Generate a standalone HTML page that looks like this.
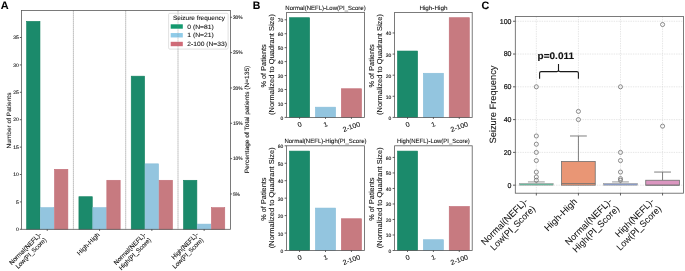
<!DOCTYPE html>
<html><head><meta charset="utf-8"><style>
html,body{margin:0;padding:0;background:#fff;width:685px;height:271px;overflow:hidden}
svg{display:block;will-change:transform;filter:blur(0.3px)}
text{font-family:"Liberation Sans", sans-serif;text-rendering:geometricPrecision;stroke:#111;stroke-width:0.09px} text.sm{stroke-width:0.1px}
</style></head><body>
<svg width="685" height="271" viewBox="0 0 685 271">
<rect width="685" height="271" fill="#fff"/>
<line x1="73.40" y1="10.50" x2="73.40" y2="229.30" stroke="#7a7a7a" stroke-width="0.7" stroke-dasharray="1.2,0.8"/>
<line x1="125.70" y1="10.50" x2="125.70" y2="229.30" stroke="#7a7a7a" stroke-width="0.7" stroke-dasharray="1.2,0.8"/>
<line x1="178.00" y1="10.50" x2="178.00" y2="229.30" stroke="#7a7a7a" stroke-width="0.7" stroke-dasharray="1.2,0.8"/>
<rect x="26.62" y="21.38" width="13.35" height="207.92" fill="#1b8a6b" stroke="#11805f" stroke-width="0.6"/>
<rect x="40.57" y="207.68" width="13.35" height="21.62" fill="#93c5df" stroke="#86bdd9" stroke-width="0.6"/>
<rect x="54.52" y="169.32" width="13.35" height="59.98" fill="#c77a80" stroke="#c26c75" stroke-width="0.6"/>
<rect x="78.92" y="196.72" width="13.35" height="32.58" fill="#1b8a6b" stroke="#11805f" stroke-width="0.6"/>
<rect x="92.88" y="207.68" width="13.35" height="21.62" fill="#93c5df" stroke="#86bdd9" stroke-width="0.6"/>
<rect x="106.83" y="180.28" width="13.35" height="49.02" fill="#c77a80" stroke="#c26c75" stroke-width="0.6"/>
<rect x="131.23" y="76.17" width="13.35" height="153.13" fill="#1b8a6b" stroke="#11805f" stroke-width="0.6"/>
<rect x="145.18" y="163.84" width="13.35" height="65.46" fill="#93c5df" stroke="#86bdd9" stroke-width="0.6"/>
<rect x="159.12" y="180.28" width="13.35" height="49.02" fill="#c77a80" stroke="#c26c75" stroke-width="0.6"/>
<rect x="183.53" y="180.28" width="13.35" height="49.02" fill="#1b8a6b" stroke="#11805f" stroke-width="0.6"/>
<rect x="197.47" y="224.12" width="13.35" height="5.18" fill="#93c5df" stroke="#86bdd9" stroke-width="0.6"/>
<rect x="211.42" y="207.68" width="13.35" height="21.62" fill="#c77a80" stroke="#c26c75" stroke-width="0.6"/>
<rect x="21.45" y="10.5" width="209.05" height="218.80" fill="none" stroke="#5a5a5a" stroke-width="0.8"/>
<line x1="19.85" y1="229.30" x2="21.45" y2="229.30" stroke="#3a3a3a" stroke-width="0.8" />
<text id="t1" class="m sm" transform="translate(18.85,231.00)" y="0.00" font-size="5.08" text-anchor="end" fill="#111" >0</text>
<line x1="19.85" y1="201.90" x2="21.45" y2="201.90" stroke="#3a3a3a" stroke-width="0.8" />
<text id="t2" class="m sm" transform="translate(18.85,203.60)" y="0.00" font-size="5.08" text-anchor="end" fill="#111" >5</text>
<line x1="19.85" y1="174.50" x2="21.45" y2="174.50" stroke="#3a3a3a" stroke-width="0.8" />
<text id="t3" class="m sm" transform="translate(18.85,176.20)" y="0.00" font-size="5.08" text-anchor="end" fill="#111" >10</text>
<line x1="19.85" y1="147.11" x2="21.45" y2="147.11" stroke="#3a3a3a" stroke-width="0.8" />
<text id="t4" class="m sm" transform="translate(18.85,148.81)" y="0.00" font-size="5.08" text-anchor="end" fill="#111" >15</text>
<line x1="19.85" y1="119.71" x2="21.45" y2="119.71" stroke="#3a3a3a" stroke-width="0.8" />
<text id="t5" class="m sm" transform="translate(18.85,121.41)" y="0.00" font-size="5.08" text-anchor="end" fill="#111" >20</text>
<line x1="19.85" y1="92.31" x2="21.45" y2="92.31" stroke="#3a3a3a" stroke-width="0.8" />
<text id="t6" class="m sm" transform="translate(18.85,94.01)" y="0.00" font-size="5.08" text-anchor="end" fill="#111" >25</text>
<line x1="19.85" y1="64.91" x2="21.45" y2="64.91" stroke="#3a3a3a" stroke-width="0.8" />
<text id="t7" class="m sm" transform="translate(18.85,66.61)" y="0.00" font-size="5.08" text-anchor="end" fill="#111" >30</text>
<line x1="19.85" y1="37.51" x2="21.45" y2="37.51" stroke="#3a3a3a" stroke-width="0.8" />
<text id="t8" class="m sm" transform="translate(18.85,39.21)" y="0.00" font-size="5.08" text-anchor="end" fill="#111" >35</text>
<line x1="230.50" y1="193.96" x2="232.10" y2="193.96" stroke="#3a3a3a" stroke-width="0.8" />
<text id="t9" class="m sm" transform="translate(232.90,195.66)" y="0.00" font-size="4.86" text-anchor="start" fill="#111" >5%</text>
<line x1="230.50" y1="158.63" x2="232.10" y2="158.63" stroke="#3a3a3a" stroke-width="0.8" />
<text id="t10" class="m sm" transform="translate(232.90,160.33)" y="0.00" font-size="4.86" text-anchor="start" fill="#111" >10%</text>
<line x1="230.50" y1="123.29" x2="232.10" y2="123.29" stroke="#3a3a3a" stroke-width="0.8" />
<text id="t11" class="m sm" transform="translate(232.90,124.99)" y="0.00" font-size="4.86" text-anchor="start" fill="#111" >15%</text>
<line x1="230.50" y1="87.96" x2="232.10" y2="87.96" stroke="#3a3a3a" stroke-width="0.8" />
<text id="t12" class="m sm" transform="translate(232.90,89.66)" y="0.00" font-size="4.86" text-anchor="start" fill="#111" >20%</text>
<line x1="230.50" y1="52.62" x2="232.10" y2="52.62" stroke="#3a3a3a" stroke-width="0.8" />
<text id="t13" class="m sm" transform="translate(232.90,54.32)" y="0.00" font-size="4.86" text-anchor="start" fill="#111" >25%</text>
<line x1="230.50" y1="17.28" x2="232.10" y2="17.28" stroke="#3a3a3a" stroke-width="0.8" />
<text id="t14" class="m sm" transform="translate(232.90,18.98)" y="0.00" font-size="4.86" text-anchor="start" fill="#111" >30%</text>
<line x1="47.25" y1="229.30" x2="47.25" y2="230.90" stroke="#3a3a3a" stroke-width="0.8" />
<line x1="99.55" y1="229.30" x2="99.55" y2="230.90" stroke="#3a3a3a" stroke-width="0.8" />
<line x1="151.85" y1="229.30" x2="151.85" y2="230.90" stroke="#3a3a3a" stroke-width="0.8" />
<line x1="204.15" y1="229.30" x2="204.15" y2="230.90" stroke="#3a3a3a" stroke-width="0.8" />
<g id="g1" class="m" transform="translate(41.75,235.15) rotate(-45)">
<text x="0" y="0.00" font-size="6.32" text-anchor="end" fill="#111" textLength="42.54" lengthAdjust="spacingAndGlyphs">Normal(NEFL)-</text>
<text x="0" y="7.30" font-size="6.32" text-anchor="end" fill="#111" textLength="40.65" lengthAdjust="spacingAndGlyphs">Low(PI_Score)</text>
</g>
<g id="g2" class="m" transform="translate(100.05,235.15) rotate(-45)">
<text x="0" y="0.00" font-size="6.32" text-anchor="end" fill="#111" textLength="29.00" lengthAdjust="spacingAndGlyphs">High-High</text>
</g>
<g id="g3" class="m" transform="translate(146.35,235.15) rotate(-45)">
<text x="0" y="0.00" font-size="6.32" text-anchor="end" fill="#111" textLength="42.54" lengthAdjust="spacingAndGlyphs">Normal(NEFL)-</text>
<text x="0" y="7.30" font-size="6.32" text-anchor="end" fill="#111" textLength="42.57" lengthAdjust="spacingAndGlyphs">High(PI_Score)</text>
</g>
<g id="g4" class="m" transform="translate(198.65,235.15) rotate(-45)">
<text x="0" y="0.00" font-size="6.32" text-anchor="end" fill="#111" textLength="34.82" lengthAdjust="spacingAndGlyphs">High(NEFL)-</text>
<text x="0" y="7.30" font-size="6.32" text-anchor="end" fill="#111" textLength="40.65" lengthAdjust="spacingAndGlyphs">Low(PI_Score)</text>
</g>
<text id="t15" class="m" transform="translate(10.60,120.50) rotate(-90)" y="0.00" font-size="6.20" text-anchor="middle" fill="#111"  textLength="55.82" lengthAdjust="spacingAndGlyphs">Number of Patients</text>
<text id="t16" class="m" transform="translate(248.70,119.50) rotate(-90)" y="0.00" font-size="6.26" text-anchor="middle" fill="#111"  textLength="107.60" lengthAdjust="spacingAndGlyphs">Percentage of Total patients (N=135)</text>
<rect x="168.6" y="13.3" width="59.5" height="35.8" rx="1.2" fill="#fff" fill-opacity="0.8" stroke="#ccc" stroke-width="0.6"/>
<text id="t17" class="m" transform="translate(199.00,20.10)" y="0.00" font-size="6.22" text-anchor="middle" fill="#111"  textLength="51.98" lengthAdjust="spacingAndGlyphs">Seizure frequency</text>
<rect x="170.70" y="24.30" width="12.10" height="4.40" fill="#139a6f" />
<text id="t18" class="m" transform="translate(187.30,28.70)" y="0.00" font-size="6.24" text-anchor="start" fill="#111"  textLength="26.55" lengthAdjust="spacingAndGlyphs">0 (N=81)</text>
<rect x="170.70" y="33.05" width="12.10" height="4.40" fill="#8fcbe8" />
<text id="t19" class="m" transform="translate(187.30,37.45)" y="0.00" font-size="6.24" text-anchor="start" fill="#111"  textLength="26.55" lengthAdjust="spacingAndGlyphs">1 (N=21)</text>
<rect x="170.70" y="41.80" width="12.10" height="4.40" fill="#d06b78" />
<text id="t20" class="m" transform="translate(187.30,46.20)" y="0.00" font-size="6.24" text-anchor="start" fill="#111"  textLength="39.66" lengthAdjust="spacingAndGlyphs">2-100 (N=33)</text>
<line x1="178.00" y1="13.60" x2="178.00" y2="48.80" stroke="#888" stroke-width="0.6" stroke-dasharray="1.2,0.8" opacity="0.6"/>
<text id="t21" class="m" transform="translate(0.75,8.75)" y="0.00" font-size="10.80" text-anchor="start" fill="#000" font-weight="bold"  textLength="7.90" lengthAdjust="spacingAndGlyphs">A</text>
<rect x="289.49" y="17.70" width="20.15" height="99.70" fill="#1b8a6b" stroke="#11805f" stroke-width="0.6"/>
<rect x="315.43" y="107.17" width="20.15" height="10.23" fill="#93c5df" stroke="#86bdd9" stroke-width="0.6"/>
<rect x="341.36" y="88.75" width="20.15" height="28.65" fill="#c77a80" stroke="#c26c75" stroke-width="0.6"/>
<rect x="286.6" y="12.4" width="77.80" height="105.00" fill="none" stroke="#5a5a5a" stroke-width="0.8"/>
<line x1="284.60" y1="117.40" x2="286.60" y2="117.40" stroke="#3a3a3a" stroke-width="0.8" />
<text id="t22" class="m sm" transform="translate(283.30,119.90)" y="0.00" font-size="4.97" text-anchor="end" fill="#111" >0</text>
<line x1="284.60" y1="103.45" x2="286.60" y2="103.45" stroke="#3a3a3a" stroke-width="0.8" />
<text id="t23" class="m sm" transform="translate(283.30,105.95)" y="0.00" font-size="4.97" text-anchor="end" fill="#111" >10</text>
<line x1="284.60" y1="89.51" x2="286.60" y2="89.51" stroke="#3a3a3a" stroke-width="0.8" />
<text id="t24" class="m sm" transform="translate(283.30,92.01)" y="0.00" font-size="4.97" text-anchor="end" fill="#111" >20</text>
<line x1="284.60" y1="75.56" x2="286.60" y2="75.56" stroke="#3a3a3a" stroke-width="0.8" />
<text id="t25" class="m sm" transform="translate(283.30,78.06)" y="0.00" font-size="4.97" text-anchor="end" fill="#111" >30</text>
<line x1="284.60" y1="61.61" x2="286.60" y2="61.61" stroke="#3a3a3a" stroke-width="0.8" />
<text id="t26" class="m sm" transform="translate(283.30,64.11)" y="0.00" font-size="4.97" text-anchor="end" fill="#111" >40</text>
<line x1="284.60" y1="47.66" x2="286.60" y2="47.66" stroke="#3a3a3a" stroke-width="0.8" />
<text id="t27" class="m sm" transform="translate(283.30,50.16)" y="0.00" font-size="4.97" text-anchor="end" fill="#111" >50</text>
<line x1="284.60" y1="33.72" x2="286.60" y2="33.72" stroke="#3a3a3a" stroke-width="0.8" />
<text id="t28" class="m sm" transform="translate(283.30,36.22)" y="0.00" font-size="4.97" text-anchor="end" fill="#111" >60</text>
<line x1="284.60" y1="19.77" x2="286.60" y2="19.77" stroke="#3a3a3a" stroke-width="0.8" />
<text id="t29" class="m sm" transform="translate(283.30,22.27)" y="0.00" font-size="4.97" text-anchor="end" fill="#111" >70</text>
<line x1="299.57" y1="117.40" x2="299.57" y2="118.90" stroke="#3a3a3a" stroke-width="0.8" />
<text id="t30" class="m" transform="translate(299.57,124.36) rotate(-20)" y="2.25" font-size="6.75" text-anchor="middle" fill="#111"  textLength="3.98" lengthAdjust="spacingAndGlyphs">0</text>
<line x1="325.50" y1="117.40" x2="325.50" y2="118.90" stroke="#3a3a3a" stroke-width="0.8" />
<text id="t31" class="m" transform="translate(325.50,124.36) rotate(-20)" y="2.25" font-size="6.75" text-anchor="middle" fill="#111"  textLength="3.98" lengthAdjust="spacingAndGlyphs">1</text>
<line x1="351.43" y1="117.40" x2="351.43" y2="118.90" stroke="#3a3a3a" stroke-width="0.8" />
<text id="t32" class="m" transform="translate(351.43,126.78) rotate(-20)" y="2.25" font-size="6.75" text-anchor="middle" fill="#111"  textLength="18.16" lengthAdjust="spacingAndGlyphs">2-100</text>
<text id="t33" class="m" transform="translate(325.50,9.80)" y="0.00" font-size="6.10" text-anchor="middle" fill="#111"  textLength="80.34" lengthAdjust="spacingAndGlyphs">Normal(NEFL)-Low(PI_Score)</text>
<text id="t34" class="m" transform="translate(265.80,65.90) rotate(-90)" y="0.00" font-size="7.13" text-anchor="middle" fill="#111"  textLength="43.25" lengthAdjust="spacingAndGlyphs">% of Patients</text>
<text id="t35" class="m" transform="translate(274.30,64.50) rotate(-90)" y="0.00" font-size="7.13" text-anchor="middle" fill="#111"  textLength="100.99" lengthAdjust="spacingAndGlyphs">(Normalized to Quadrant Size)</text>
<rect x="397.49" y="51.03" width="20.09" height="66.37" fill="#1b8a6b" stroke="#11805f" stroke-width="0.6"/>
<rect x="423.35" y="73.26" width="20.09" height="44.14" fill="#93c5df" stroke="#86bdd9" stroke-width="0.6"/>
<rect x="449.22" y="17.70" width="20.09" height="99.70" fill="#c77a80" stroke="#c26c75" stroke-width="0.6"/>
<rect x="394.6" y="12.4" width="77.60" height="105.00" fill="none" stroke="#5a5a5a" stroke-width="0.8"/>
<line x1="392.60" y1="117.40" x2="394.60" y2="117.40" stroke="#3a3a3a" stroke-width="0.8" />
<text id="t36" class="m sm" transform="translate(391.30,119.90)" y="0.00" font-size="4.97" text-anchor="end" fill="#111" >0</text>
<line x1="392.60" y1="96.29" x2="394.60" y2="96.29" stroke="#3a3a3a" stroke-width="0.8" />
<text id="t37" class="m sm" transform="translate(391.30,98.79)" y="0.00" font-size="4.97" text-anchor="end" fill="#111" >10</text>
<line x1="392.60" y1="75.18" x2="394.60" y2="75.18" stroke="#3a3a3a" stroke-width="0.8" />
<text id="t38" class="m sm" transform="translate(391.30,77.68)" y="0.00" font-size="4.97" text-anchor="end" fill="#111" >20</text>
<line x1="392.60" y1="54.07" x2="394.60" y2="54.07" stroke="#3a3a3a" stroke-width="0.8" />
<text id="t39" class="m sm" transform="translate(391.30,56.57)" y="0.00" font-size="4.97" text-anchor="end" fill="#111" >30</text>
<line x1="392.60" y1="32.96" x2="394.60" y2="32.96" stroke="#3a3a3a" stroke-width="0.8" />
<text id="t40" class="m sm" transform="translate(391.30,35.46)" y="0.00" font-size="4.97" text-anchor="end" fill="#111" >40</text>
<line x1="407.53" y1="117.40" x2="407.53" y2="118.90" stroke="#3a3a3a" stroke-width="0.8" />
<text id="t41" class="m" transform="translate(407.53,124.36) rotate(-20)" y="2.25" font-size="6.75" text-anchor="middle" fill="#111"  textLength="3.98" lengthAdjust="spacingAndGlyphs">0</text>
<line x1="433.40" y1="117.40" x2="433.40" y2="118.90" stroke="#3a3a3a" stroke-width="0.8" />
<text id="t42" class="m" transform="translate(433.40,124.36) rotate(-20)" y="2.25" font-size="6.75" text-anchor="middle" fill="#111"  textLength="3.98" lengthAdjust="spacingAndGlyphs">1</text>
<line x1="459.27" y1="117.40" x2="459.27" y2="118.90" stroke="#3a3a3a" stroke-width="0.8" />
<text id="t43" class="m" transform="translate(459.27,126.78) rotate(-20)" y="2.25" font-size="6.75" text-anchor="middle" fill="#111"  textLength="18.16" lengthAdjust="spacingAndGlyphs">2-100</text>
<text id="t44" class="m" transform="translate(433.40,9.80)" y="0.00" font-size="6.10" text-anchor="middle" fill="#111"  textLength="28.01" lengthAdjust="spacingAndGlyphs">High-High</text>
<text id="t45" class="m" transform="translate(373.80,65.90) rotate(-90)" y="0.00" font-size="7.13" text-anchor="middle" fill="#111"  textLength="43.25" lengthAdjust="spacingAndGlyphs">% of Patients</text>
<text id="t46" class="m" transform="translate(382.30,64.50) rotate(-90)" y="0.00" font-size="7.13" text-anchor="middle" fill="#111"  textLength="100.99" lengthAdjust="spacingAndGlyphs">(Normalized to Quadrant Size)</text>
<rect x="289.49" y="151.09" width="20.15" height="99.41" fill="#1b8a6b" stroke="#11805f" stroke-width="0.6"/>
<rect x="315.43" y="208.07" width="20.15" height="42.43" fill="#93c5df" stroke="#86bdd9" stroke-width="0.6"/>
<rect x="341.36" y="218.75" width="20.15" height="31.75" fill="#c77a80" stroke="#c26c75" stroke-width="0.6"/>
<rect x="286.6" y="145.8" width="77.80" height="104.70" fill="none" stroke="#5a5a5a" stroke-width="0.8"/>
<line x1="284.60" y1="250.50" x2="286.60" y2="250.50" stroke="#3a3a3a" stroke-width="0.8" />
<text id="t47" class="m sm" transform="translate(283.30,253.00)" y="0.00" font-size="4.97" text-anchor="end" fill="#111" >0</text>
<line x1="284.60" y1="233.05" x2="286.60" y2="233.05" stroke="#3a3a3a" stroke-width="0.8" />
<text id="t48" class="m sm" transform="translate(283.30,235.55)" y="0.00" font-size="4.97" text-anchor="end" fill="#111" >10</text>
<line x1="284.60" y1="215.60" x2="286.60" y2="215.60" stroke="#3a3a3a" stroke-width="0.8" />
<text id="t49" class="m sm" transform="translate(283.30,218.10)" y="0.00" font-size="4.97" text-anchor="end" fill="#111" >20</text>
<line x1="284.60" y1="198.15" x2="286.60" y2="198.15" stroke="#3a3a3a" stroke-width="0.8" />
<text id="t50" class="m sm" transform="translate(283.30,200.65)" y="0.00" font-size="4.97" text-anchor="end" fill="#111" >30</text>
<line x1="284.60" y1="180.70" x2="286.60" y2="180.70" stroke="#3a3a3a" stroke-width="0.8" />
<text id="t51" class="m sm" transform="translate(283.30,183.20)" y="0.00" font-size="4.97" text-anchor="end" fill="#111" >40</text>
<line x1="284.60" y1="163.25" x2="286.60" y2="163.25" stroke="#3a3a3a" stroke-width="0.8" />
<text id="t52" class="m sm" transform="translate(283.30,165.75)" y="0.00" font-size="4.97" text-anchor="end" fill="#111" >50</text>
<line x1="284.60" y1="145.80" x2="286.60" y2="145.80" stroke="#3a3a3a" stroke-width="0.8" />
<text id="t53" class="m sm" transform="translate(283.30,148.30)" y="0.00" font-size="4.97" text-anchor="end" fill="#111" >60</text>
<line x1="299.57" y1="250.50" x2="299.57" y2="252.00" stroke="#3a3a3a" stroke-width="0.8" />
<text id="t54" class="m" transform="translate(299.57,257.46) rotate(-20)" y="2.25" font-size="6.75" text-anchor="middle" fill="#111"  textLength="3.98" lengthAdjust="spacingAndGlyphs">0</text>
<line x1="325.50" y1="250.50" x2="325.50" y2="252.00" stroke="#3a3a3a" stroke-width="0.8" />
<text id="t55" class="m" transform="translate(325.50,257.46) rotate(-20)" y="2.25" font-size="6.75" text-anchor="middle" fill="#111"  textLength="3.98" lengthAdjust="spacingAndGlyphs">1</text>
<line x1="351.43" y1="250.50" x2="351.43" y2="252.00" stroke="#3a3a3a" stroke-width="0.8" />
<text id="t56" class="m" transform="translate(351.43,259.88) rotate(-20)" y="2.25" font-size="6.75" text-anchor="middle" fill="#111"  textLength="18.16" lengthAdjust="spacingAndGlyphs">2-100</text>
<text id="t57" class="m" transform="translate(325.50,143.20)" y="0.00" font-size="6.10" text-anchor="middle" fill="#111"  textLength="82.20" lengthAdjust="spacingAndGlyphs">Normal(NEFL)-High(PI_Score)</text>
<text id="t58" class="m" transform="translate(265.80,199.15) rotate(-90)" y="0.00" font-size="7.13" text-anchor="middle" fill="#111"  textLength="43.25" lengthAdjust="spacingAndGlyphs">% of Patients</text>
<text id="t59" class="m" transform="translate(274.30,197.75) rotate(-90)" y="0.00" font-size="7.13" text-anchor="middle" fill="#111"  textLength="100.99" lengthAdjust="spacingAndGlyphs">(Normalized to Quadrant Size)</text>
<rect x="397.49" y="151.09" width="20.09" height="99.41" fill="#1b8a6b" stroke="#11805f" stroke-width="0.6"/>
<rect x="423.35" y="239.72" width="20.09" height="10.78" fill="#93c5df" stroke="#86bdd9" stroke-width="0.6"/>
<rect x="449.22" y="206.48" width="20.09" height="44.02" fill="#c77a80" stroke="#c26c75" stroke-width="0.6"/>
<rect x="394.6" y="145.8" width="77.60" height="104.70" fill="none" stroke="#5a5a5a" stroke-width="0.8"/>
<line x1="392.60" y1="250.50" x2="394.60" y2="250.50" stroke="#3a3a3a" stroke-width="0.8" />
<text id="t60" class="m sm" transform="translate(391.30,253.00)" y="0.00" font-size="4.97" text-anchor="end" fill="#111" >0</text>
<line x1="392.60" y1="234.99" x2="394.60" y2="234.99" stroke="#3a3a3a" stroke-width="0.8" />
<text id="t61" class="m sm" transform="translate(391.30,237.49)" y="0.00" font-size="4.97" text-anchor="end" fill="#111" >10</text>
<line x1="392.60" y1="219.48" x2="394.60" y2="219.48" stroke="#3a3a3a" stroke-width="0.8" />
<text id="t62" class="m sm" transform="translate(391.30,221.98)" y="0.00" font-size="4.97" text-anchor="end" fill="#111" >20</text>
<line x1="392.60" y1="203.97" x2="394.60" y2="203.97" stroke="#3a3a3a" stroke-width="0.8" />
<text id="t63" class="m sm" transform="translate(391.30,206.47)" y="0.00" font-size="4.97" text-anchor="end" fill="#111" >30</text>
<line x1="392.60" y1="188.46" x2="394.60" y2="188.46" stroke="#3a3a3a" stroke-width="0.8" />
<text id="t64" class="m sm" transform="translate(391.30,190.96)" y="0.00" font-size="4.97" text-anchor="end" fill="#111" >40</text>
<line x1="392.60" y1="172.94" x2="394.60" y2="172.94" stroke="#3a3a3a" stroke-width="0.8" />
<text id="t65" class="m sm" transform="translate(391.30,175.44)" y="0.00" font-size="4.97" text-anchor="end" fill="#111" >50</text>
<line x1="392.60" y1="157.43" x2="394.60" y2="157.43" stroke="#3a3a3a" stroke-width="0.8" />
<text id="t66" class="m sm" transform="translate(391.30,159.93)" y="0.00" font-size="4.97" text-anchor="end" fill="#111" >60</text>
<line x1="407.53" y1="250.50" x2="407.53" y2="252.00" stroke="#3a3a3a" stroke-width="0.8" />
<text id="t67" class="m" transform="translate(407.53,257.46) rotate(-20)" y="2.25" font-size="6.75" text-anchor="middle" fill="#111"  textLength="3.98" lengthAdjust="spacingAndGlyphs">0</text>
<line x1="433.40" y1="250.50" x2="433.40" y2="252.00" stroke="#3a3a3a" stroke-width="0.8" />
<text id="t68" class="m" transform="translate(433.40,257.46) rotate(-20)" y="2.25" font-size="6.75" text-anchor="middle" fill="#111"  textLength="3.98" lengthAdjust="spacingAndGlyphs">1</text>
<line x1="459.27" y1="250.50" x2="459.27" y2="252.00" stroke="#3a3a3a" stroke-width="0.8" />
<text id="t69" class="m" transform="translate(459.27,259.88) rotate(-20)" y="2.25" font-size="6.75" text-anchor="middle" fill="#111"  textLength="18.16" lengthAdjust="spacingAndGlyphs">2-100</text>
<text id="t70" class="m" transform="translate(433.40,143.20)" y="0.00" font-size="6.10" text-anchor="middle" fill="#111"  textLength="72.88" lengthAdjust="spacingAndGlyphs">High(NEFL)-Low(PI_Score)</text>
<text id="t71" class="m" transform="translate(373.80,199.15) rotate(-90)" y="0.00" font-size="7.13" text-anchor="middle" fill="#111"  textLength="43.25" lengthAdjust="spacingAndGlyphs">% of Patients</text>
<text id="t72" class="m" transform="translate(382.30,197.75) rotate(-90)" y="0.00" font-size="7.13" text-anchor="middle" fill="#111"  textLength="100.99" lengthAdjust="spacingAndGlyphs">(Normalized to Quadrant Size)</text>
<text id="t73" class="m" transform="translate(252.70,8.90)" y="0.00" font-size="10.80" text-anchor="start" fill="#000" font-weight="bold"  textLength="7.60" lengthAdjust="spacingAndGlyphs">B</text>
<line x1="515.30" y1="185.17" x2="683.60" y2="185.17" stroke="#ccc" stroke-width="0.5" stroke-dasharray="1.4,1"/>
<line x1="515.30" y1="152.39" x2="683.60" y2="152.39" stroke="#ccc" stroke-width="0.5" stroke-dasharray="1.4,1"/>
<line x1="515.30" y1="119.60" x2="683.60" y2="119.60" stroke="#ccc" stroke-width="0.5" stroke-dasharray="1.4,1"/>
<line x1="515.30" y1="86.82" x2="683.60" y2="86.82" stroke="#ccc" stroke-width="0.5" stroke-dasharray="1.4,1"/>
<line x1="515.30" y1="54.04" x2="683.60" y2="54.04" stroke="#ccc" stroke-width="0.5" stroke-dasharray="1.4,1"/>
<line x1="515.30" y1="21.25" x2="683.60" y2="21.25" stroke="#ccc" stroke-width="0.5" stroke-dasharray="1.4,1"/>
<line x1="536.34" y1="16.50" x2="536.34" y2="193.20" stroke="#ccc" stroke-width="0.5" stroke-dasharray="1.4,1"/>
<line x1="578.41" y1="16.50" x2="578.41" y2="193.20" stroke="#ccc" stroke-width="0.5" stroke-dasharray="1.4,1"/>
<line x1="620.49" y1="16.50" x2="620.49" y2="193.20" stroke="#ccc" stroke-width="0.5" stroke-dasharray="1.4,1"/>
<line x1="662.56" y1="16.50" x2="662.56" y2="193.20" stroke="#ccc" stroke-width="0.5" stroke-dasharray="1.4,1"/>
<line x1="536.34" y1="183.53" x2="536.34" y2="181.89" stroke="#b0b0b0" stroke-width="0.9" />
<line x1="527.92" y1="181.89" x2="544.75" y2="181.89" stroke="#b0b0b0" stroke-width="1.3" />
<rect x="519.51" y="183.53" width="33.66" height="1.64" fill="#66bb9e" stroke="#9a9a9a" stroke-width="0.6"/>
<circle cx="536.34" cy="180.25" r="2.05" fill="none" stroke="#707070" stroke-width="0.8"/>
<circle cx="536.34" cy="176.97" r="2.05" fill="none" stroke="#707070" stroke-width="0.8"/>
<circle cx="536.34" cy="172.06" r="2.05" fill="none" stroke="#707070" stroke-width="0.8"/>
<circle cx="536.34" cy="160.58" r="2.05" fill="none" stroke="#707070" stroke-width="0.8"/>
<circle cx="536.34" cy="152.39" r="2.05" fill="none" stroke="#707070" stroke-width="0.8"/>
<circle cx="536.34" cy="144.19" r="2.05" fill="none" stroke="#707070" stroke-width="0.8"/>
<circle cx="536.34" cy="135.99" r="2.05" fill="none" stroke="#707070" stroke-width="0.8"/>
<circle cx="536.34" cy="86.82" r="2.05" fill="none" stroke="#707070" stroke-width="0.8"/>
<line x1="578.41" y1="161.40" x2="578.41" y2="135.99" stroke="#707070" stroke-width="0.9" />
<line x1="570.00" y1="135.99" x2="586.83" y2="135.99" stroke="#707070" stroke-width="0.9" />
<rect x="561.58" y="161.40" width="33.66" height="23.77" fill="#e99675" stroke="#707070" stroke-width="0.8"/>
<line x1="561.58" y1="183.53" x2="595.24" y2="183.53" stroke="#707070" stroke-width="0.8" />
<circle cx="578.41" cy="119.60" r="2.05" fill="none" stroke="#707070" stroke-width="0.8"/>
<circle cx="578.41" cy="111.41" r="2.05" fill="none" stroke="#707070" stroke-width="0.8"/>
<line x1="620.49" y1="183.53" x2="620.49" y2="181.89" stroke="#b0b0b0" stroke-width="0.9" />
<line x1="612.07" y1="181.89" x2="628.90" y2="181.89" stroke="#b0b0b0" stroke-width="1.3" />
<rect x="603.66" y="183.53" width="33.66" height="1.64" fill="#889ccb" stroke="#9a9a9a" stroke-width="0.6"/>
<circle cx="620.49" cy="180.25" r="2.05" fill="none" stroke="#707070" stroke-width="0.8"/>
<circle cx="620.49" cy="178.61" r="2.05" fill="none" stroke="#707070" stroke-width="0.8"/>
<circle cx="620.49" cy="172.06" r="2.05" fill="none" stroke="#707070" stroke-width="0.8"/>
<circle cx="620.49" cy="160.58" r="2.05" fill="none" stroke="#707070" stroke-width="0.8"/>
<circle cx="620.49" cy="152.39" r="2.05" fill="none" stroke="#707070" stroke-width="0.8"/>
<circle cx="620.49" cy="86.82" r="2.05" fill="none" stroke="#707070" stroke-width="0.8"/>
<line x1="662.56" y1="180.25" x2="662.56" y2="172.06" stroke="#707070" stroke-width="0.9" />
<line x1="654.15" y1="172.06" x2="670.98" y2="172.06" stroke="#707070" stroke-width="0.9" />
<rect x="645.73" y="180.25" width="33.66" height="4.92" fill="#db96c0" stroke="#707070" stroke-width="0.8"/>
<line x1="645.73" y1="185.17" x2="679.39" y2="185.17" stroke="#707070" stroke-width="0.8" />
<circle cx="662.56" cy="126.16" r="2.05" fill="none" stroke="#707070" stroke-width="0.8"/>
<circle cx="662.56" cy="24.53" r="2.05" fill="none" stroke="#707070" stroke-width="0.8"/>
<rect x="515.3" y="16.5" width="168.30" height="176.70" fill="none" stroke="#5a5a5a" stroke-width="0.8"/>
<line x1="513.00" y1="185.17" x2="515.30" y2="185.17" stroke="#3a3a3a" stroke-width="0.8" />
<text id="t74" class="m" style="stroke-width:0.2px" transform="translate(511.50,187.57)" y="0.00" font-size="7.02" text-anchor="end" fill="#111" >0</text>
<line x1="513.00" y1="152.39" x2="515.30" y2="152.39" stroke="#3a3a3a" stroke-width="0.8" />
<text id="t75" class="m" style="stroke-width:0.2px" transform="translate(511.50,154.79)" y="0.00" font-size="7.02" text-anchor="end" fill="#111" >20</text>
<line x1="513.00" y1="119.60" x2="515.30" y2="119.60" stroke="#3a3a3a" stroke-width="0.8" />
<text id="t76" class="m" style="stroke-width:0.2px" transform="translate(511.50,122.00)" y="0.00" font-size="7.02" text-anchor="end" fill="#111" >40</text>
<line x1="513.00" y1="86.82" x2="515.30" y2="86.82" stroke="#3a3a3a" stroke-width="0.8" />
<text id="t77" class="m" style="stroke-width:0.2px" transform="translate(511.50,89.22)" y="0.00" font-size="7.02" text-anchor="end" fill="#111" >60</text>
<line x1="513.00" y1="54.04" x2="515.30" y2="54.04" stroke="#3a3a3a" stroke-width="0.8" />
<text id="t78" class="m" style="stroke-width:0.2px" transform="translate(511.50,56.44)" y="0.00" font-size="7.02" text-anchor="end" fill="#111" >80</text>
<line x1="513.00" y1="21.25" x2="515.30" y2="21.25" stroke="#3a3a3a" stroke-width="0.8" />
<text id="t79" class="m" style="stroke-width:0.2px" transform="translate(511.50,23.65)" y="0.00" font-size="7.02" text-anchor="end" fill="#111" >100</text>
<line x1="536.34" y1="193.20" x2="536.34" y2="195.50" stroke="#3a3a3a" stroke-width="0.8" />
<line x1="578.41" y1="193.20" x2="578.41" y2="195.50" stroke="#3a3a3a" stroke-width="0.8" />
<line x1="620.49" y1="193.20" x2="620.49" y2="195.50" stroke="#3a3a3a" stroke-width="0.8" />
<line x1="662.56" y1="193.20" x2="662.56" y2="195.50" stroke="#3a3a3a" stroke-width="0.8" />
<g id="g5" class="m" transform="translate(528.39,201.95) rotate(-45)">
<text x="0" y="0.00" style="stroke-width:0.05px" font-size="9.18" text-anchor="end" fill="#111" textLength="61.81" lengthAdjust="spacingAndGlyphs">Normal(NEFL)-</text>
<text x="0" y="10.40" style="stroke-width:0.05px" font-size="9.18" text-anchor="end" fill="#111" textLength="59.06" lengthAdjust="spacingAndGlyphs">Low(PI_Score)</text>
</g>
<g id="g6" class="m" transform="translate(577.76,201.95) rotate(-45)">
<text x="0" y="0.00" style="stroke-width:0.05px" font-size="9.18" text-anchor="end" fill="#111" textLength="42.14" lengthAdjust="spacingAndGlyphs">High-High</text>
</g>
<g id="g7" class="m" transform="translate(612.54,201.95) rotate(-45)">
<text x="0" y="0.00" style="stroke-width:0.05px" font-size="9.18" text-anchor="end" fill="#111" textLength="61.81" lengthAdjust="spacingAndGlyphs">Normal(NEFL)-</text>
<text x="0" y="10.40" style="stroke-width:0.05px" font-size="9.18" text-anchor="end" fill="#111" textLength="61.86" lengthAdjust="spacingAndGlyphs">High(PI_Score)</text>
</g>
<g id="g8" class="m" transform="translate(654.61,201.95) rotate(-45)">
<text x="0" y="0.00" style="stroke-width:0.05px" font-size="9.18" text-anchor="end" fill="#111" textLength="50.59" lengthAdjust="spacingAndGlyphs">High(NEFL)-</text>
<text x="0" y="10.40" style="stroke-width:0.05px" font-size="9.18" text-anchor="end" fill="#111" textLength="59.06" lengthAdjust="spacingAndGlyphs">Low(PI_Score)</text>
</g>
<text id="t80" class="m" transform="translate(496.40,104.50) rotate(-90)" y="0.00" font-size="9.18" text-anchor="middle" fill="#111"  textLength="77.99" lengthAdjust="spacingAndGlyphs">Seizure Frequency</text>
<path d="M539.6,78.8 L539.6,73.1 Q539.6,71.6 541.1,71.6 L557,71.6 Q558.5,71.6 558.5,70.1 L558.5,63.9 M558.5,70.1 Q558.5,71.6 560,71.6 L576.9,71.6 Q578.4,71.6 578.4,73.1 L578.4,78.8" fill="none" stroke="#1a1a1a" stroke-width="1.1"/>
<text id="t81" class="m" transform="translate(555.80,58.80)" y="0.00" font-size="9.50" text-anchor="middle" fill="#111" font-weight="bold"  textLength="36.60" lengthAdjust="spacingAndGlyphs">p=0.011</text>
<text id="t82" class="m" transform="translate(481.60,8.75)" y="0.00" font-size="10.80" text-anchor="start" fill="#000" font-weight="bold"  textLength="7.80" lengthAdjust="spacingAndGlyphs">C</text>
</svg>
</body></html>
